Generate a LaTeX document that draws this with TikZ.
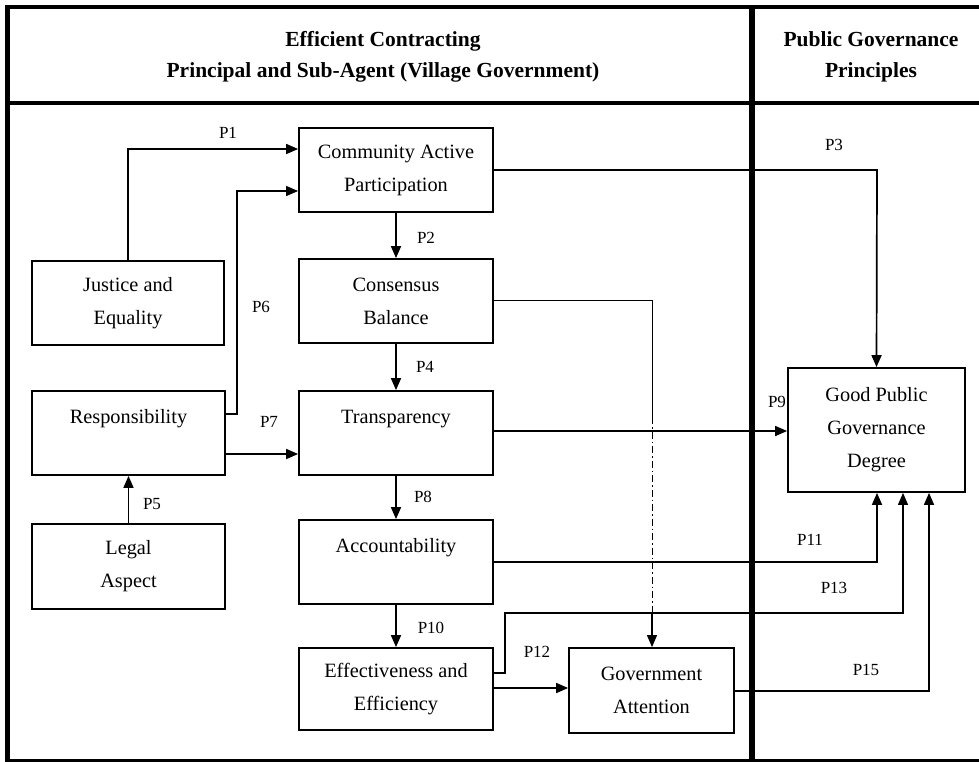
\documentclass[tikz,border=0pt]{standalone}
\usepackage{fontspec}
\setmainfont{Liberation Serif}
\usetikzlibrary{arrows.meta}
\tikzset{
  box/.style={draw, line width=1.8pt, minimum width=194pt, minimum height=84pt, inner sep=0pt,
    align=center, font=\fontsize{20.3}{33}\selectfont},
  lbl/.style={font=\fontsize{17}{17}\selectfont, inner sep=0pt},
  hdr/.style={font=\bfseries\fontsize{21.5}{31}\selectfont, align=center, inner sep=0pt},
  conn/.style={line width=1.7pt, -{Triangle[length=12pt,width=10pt]}},
  thinconn/.style={line width=1pt},
  frame/.style={line width=4.5pt}
}
\begin{document}
\begin{tikzpicture}[x=1pt,y=-1pt]
\useasboundingbox (0,0) rectangle (979,761);
\clip (0,0) rectangle (979,761);
% frame
\draw[frame] (7.5,7) -- (995,7);
\draw[frame, line width=5pt] (7.5,4.75) -- (7.5,775);
\draw[frame] (7.5,103) -- (995,103);
\draw[frame, line width=5.5pt] (752,4.75) -- (752,775);
\draw[line width=3pt] (7.5,760) -- (995,760);
% headers
\node[hdr] (h1) at (383,57) {Efficient Contracting\\Principal and Sub-Agent (Village Government)};
\node[hdr] (h2) at (871,57) {Public Governance\\Principles};
% boxes
\node[box] (comm) at (396,170) {Community Active\\Participation};
\node[box] (cons) at (396,301) {Consensus\\Balance};
\node[box] (trans) at (396,433) {Transparency\\\mbox{}};
\node[box] (acc) at (396,562) {Accountability\\\mbox{}};
\node[box, minimum height=82pt] (eff) at (396,689) {Effectiveness and\\Efficiency};
\node[box, minimum width=192pt] (just) at (128,303) {Justice and\\Equality};
\node[box, minimum width=193pt] (resp) at (128.5,433) {Responsibility\\\mbox{}};
\node[box, minimum width=193pt, minimum height=85pt] (legal) at (128.5,566.5) {Legal\\Aspect};
\node[box, minimum width=165pt, minimum height=85pt] (gov) at (651.5,690.5) {Government\\Attention};
\node[box, minimum width=177pt, minimum height=124pt] (good) at (876.5,430) {Good Public\\Governance\\Degree};
% coordinates
\coordinate (c1) at (128,149);
\coordinate (c6a) at (237,414);
\coordinate (c6b) at (237,191);
\coordinate (c3) at (877,170);
\coordinate (cd1) at (652,300);
\coordinate (cd2) at (652,417);
\coordinate (cd3) at (652,612);
\coordinate (c11) at (877,562);
\coordinate (c12a) at (505,673);
\coordinate (c12b) at (505,613);
\coordinate (c13) at (903,613);
\coordinate (c15) at (929,691);
% connectors
\draw[conn] (just.north) -- (c1) -- (c1 -| comm.west);
\draw[conn, line width=1.1pt] (resp.east |- c6a) -- (c6a) -- (c6b) -- (c6b -| comm.west);
\draw[conn] (comm.south) -- (cons.north);
\draw[conn] (comm.east |- c3) -- (c3) -- (good.north);
\draw[thinconn] (cons.east |- cd1) -- (cd1) -- (cd2);
\draw[thinconn, dash pattern=on 7pt off 3pt on 1.5pt off 3pt] (cd2) -- (cd3);
\draw[conn, line width=1.1pt] (cd3) -- (cd3 |- gov.north);
\draw[conn] (cons.south) -- (trans.north);
\draw[conn] (legal.north) -- (resp.south);
\draw[conn] (resp.east |- 0,454) -- (trans.west |- 0,454);
\draw[conn] (trans.east |- 0,431) -- (good.west |- 0,431);
\draw[conn] (trans.south) -- (acc.north);
\draw[conn] (acc.south) -- (eff.north);
\draw[conn] (acc.east |- c11) -- (c11) -- (c11 |- good.south);
\draw[conn, line width=1.2pt] (eff.east |- c12a) -- (c12a) -- (c12b) -- (c13) -- (c13 |- good.south);
\draw[conn] (eff.east |- 0,688) -- (gov.west |- 0,688);
\draw[conn] (gov.east |- c15) -- (c15) -- (c15 |- good.south);
% labels
\node[lbl] (p1) at (228,133) {P1};
\node[lbl] (p2) at (426,238) {P2};
\node[lbl] (p3) at (834,145) {P3};
\node[lbl] (p4) at (425,367) {P4};
\node[lbl] (p5) at (152,504) {P5};
\node[lbl] (p6) at (261,307) {P6};
\node[lbl] (p7) at (269,422) {P7};
\node[lbl] (p8) at (423,497) {P8};
\node[lbl] (p9) at (777,402) {P9};
\node[lbl] (p10) at (431,628) {P10};
\node[lbl] (p11) at (810,540) {P11};
\node[lbl] (p12) at (537,652) {P12};
\node[lbl] (p13) at (834,588) {P13};
\node[lbl] (p15) at (866,670) {P15};
\end{tikzpicture}
\end{document}
